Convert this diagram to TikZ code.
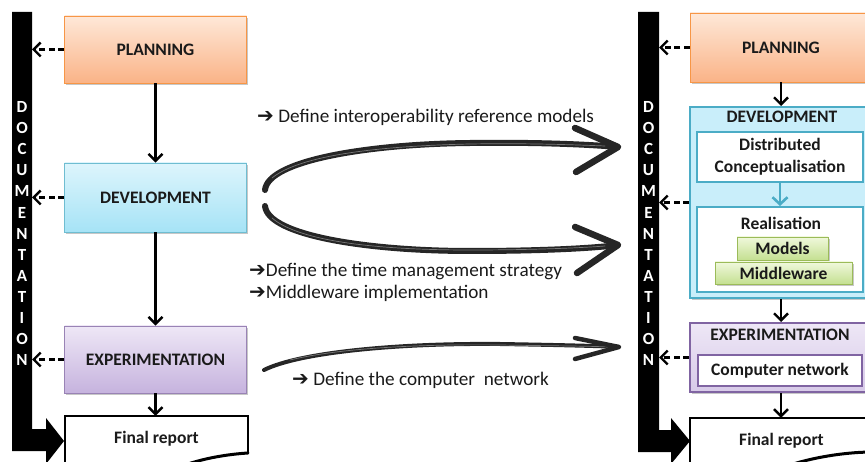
\documentclass[tikz,border=0pt]{standalone}
\usepackage{fontspec}
\setmainfont{Carlito}
\newfontfamily\symfont{DejaVu Sans}
\usetikzlibrary{arrows.meta,shadows}

\definecolor{orangeLine}{HTML}{F79646}
\definecolor{orangeTop}{HTML}{FEE8D8}
\definecolor{orangeBot}{HTML}{FAB387}
\definecolor{blueLine}{HTML}{4BACC6}
\definecolor{blueTop}{HTML}{DDF5FC}
\definecolor{blueBot}{HTML}{A6E3F6}
\definecolor{blueFill}{HTML}{C9EEFA}
\definecolor{purpleLine}{HTML}{8064A2}
\definecolor{purpleTop}{HTML}{EEE7F6}
\definecolor{purpleBot}{HTML}{C6B3DE}
\definecolor{greenLine}{HTML}{9BBB59}
\definecolor{greenTop}{HTML}{F0F8DC}
\definecolor{greenBot}{HTML}{C4E091}
\definecolor{inkText}{HTML}{1A1A1A}

\newcommand{\notearrow}{{\symfont\bfseries\fontsize{20}{20}\selectfont ➔}}

\begin{document}
\begin{tikzpicture}[x=1pt,y=-1pt,
  lbl/.style={font=\fontsize{17.5}{20}\selectfont\bfseries, text=inkText, inner sep=0pt},
  box/.style={lbl, rectangle, draw,
    drop shadow={shadow xshift=1.5pt, shadow yshift=-1.8pt, opacity=0.22, fill=black}},
  planbox/.style={box, draw=orangeLine, line width=0.9pt, top color=orangeTop, bottom color=orangeBot},
  devbox/.style={box, draw=blueLine!80, line width=0.9pt, top color=blueTop, bottom color=blueBot},
  expbox/.style={box, draw=purpleLine!80, line width=0.9pt, top color=purpleTop, bottom color=purpleBot},
  devouter/.style={box, draw=blueLine, line width=2pt, fill=blueFill},
  expouter/.style={box, draw=purpleLine, line width=2pt, top color=purpleTop, bottom color=purpleBot!70},
  whitebox/.style={lbl, rectangle, draw=blueLine, line width=2pt, fill=white},
  netbox/.style={lbl, rectangle, draw=purpleLine, line width=2.5pt, fill=white},
  greenbox/.style={box, draw=greenLine, line width=0.9pt, top color=greenTop, bottom color=greenBot},
  plain/.style={lbl},
  docletter/.style={font=\fontsize{17}{17}\selectfont\bfseries, text=white, inner sep=0pt},
  note/.style={font=\fontsize{19.2}{22}\selectfont, text=inkText, inner sep=0pt, anchor=west},
  flow/.style={draw=black, line width=2.4pt, -{Straight Barb[length=7pt, width=14pt]}},
  flowteal/.style={draw=blueLine, line width=2.6pt, -{Straight Barb[length=7pt, width=15pt]}},
  dasharrow/.style={draw=black, line width=2.4pt, dash pattern=on 6pt off 3.5pt,
    -{Straight Barb[length=7pt, width=14pt]}},
  sketch/.style={draw=black!85, line cap=round, line join=round},
  grain/.style={draw=black!45, line width=0.7pt, opacity=0.8, line cap=round},
  docline/.style={draw=black, line width=2.6pt, line join=miter}
]
\useasboundingbox (0,0) rectangle (865,462);
\clip (0,0) rectangle (865,462);

% ---------- documentation bars with their bent arrows ----------
\fill[black] (12,12) -- (32,12) -- (32,429) -- (46,429) -- (46,418) -- (64,441)
  -- (46,464) -- (46,451) -- (12,451) -- cycle;
\fill[black] (638,12) -- (659,12) -- (659,430) -- (671,430) -- (671,418) -- (690,441)
  -- (671,464) -- (671,452) -- (638,452) -- cycle;
\coordinate (barL) at (32,0);
\coordinate (barR) at (659,0);
\foreach \l [count=\i] in {D,O,C,U,M,E,N,T,A,T,I,O,N} {
  \node[docletter] (docL\i) at (22,{107+(\i-1)*21.1}) {\l};
  \node[docletter] (docR\i) at (648.5,{107+(\i-1)*21.1}) {\l};
}

% ---------- left column ----------
\node[planbox, minimum width=182pt, minimum height=67pt] (planL) at (155.5,49.5) {PLANNING};
\node[devbox, minimum width=182pt, minimum height=69pt] (devL) at (155.5,197.5) {DEVELOPMENT};
\node[expbox, minimum width=182pt, minimum height=67pt] (expL) at (155.5,359.5) {EXPERIMENTATION};
\node[plain, minimum width=183pt, minimum height=46pt] (repL) at (156.5,439) {Final report};
\draw[docline] (65,470) -- (65,416) -- (248,416) -- (248,453);
\draw[draw=black, line width=3pt, line cap=round] (248,453) .. controls (232,454) and (208,457) .. (185,465);

\draw[flow] (planL.south) -- (devL.north);
\draw[flow] (devL.south) -- (expL.north);
\draw[flow] (expL.south) -- (expL.south |- repL.north);
\draw[dasharrow] (planL.west) -- (planL.west -| barL);
\draw[dasharrow] (devL.west) -- (devL.west -| barL);
\draw[dasharrow] (expL.west) -- (expL.west -| barL);

% ---------- right column ----------
\node[planbox, minimum width=182pt, minimum height=69pt] (planR) at (781,47.5) {PLANNING};
\node[devouter, minimum width=182pt, minimum height=191pt] (devR) at (781,202.5) {};
\node[plain] (devRt) at (782,117) {DEVELOPMENT};
\node[whitebox, minimum width=166pt, minimum height=50pt, align=center] (concR) at (780,157)
  {Distributed\\[2pt]Conceptualisation};
\node[whitebox, minimum width=166pt, minimum height=85pt] (realR) at (780,249.5) {};
\node[plain] (realRt) at (781,223) {Realisation};
\node[greenbox, minimum width=91pt, minimum height=23pt] (modR) at (782.5,248.5) {Models};
\node[greenbox, minimum width=137pt, minimum height=22pt] (midR) at (783.5,273) {Middleware};
\node[expouter, minimum width=182pt, minimum height=69pt] (expR) at (781,357.5) {};
\node[plain] (expRt) at (780,335) {EXPERIMENTATION};
\node[netbox, minimum width=164pt, minimum height=31pt] (netR) at (780,370.5) {Computer network};
\node[plain, minimum width=183pt, minimum height=46pt] (repR) at (781.5,441) {Final report};
\draw[docline] (690,470) -- (690,418) -- (873,418) -- (873,452);
\draw[draw=black, line width=3pt, line cap=round] (873,452) .. controls (850,452) and (818,456) .. (790,465);

\draw[flow] (planR.south) -- (devR.north);
\draw[flowteal] (concR.south) -- (realR.north);
\draw[flow] (devR.south) -- (expR.north);
\draw[flow] (expR.south) -- (expR.south |- repR.north);
\draw[dasharrow] (planR.west) -- (planR.west -| barR);
\draw[dasharrow] (devR.west) -- (devR.west -| barR);
\draw[dasharrow] (expR.west) -- (expR.west -| barR);

% ---------- brush arrows between the two columns ----------
\coordinate (s1) at (265,190);
\coordinate (t1) at (618,147);
\coordinate (s2) at (265,206);
\coordinate (t2) at (618,245);
\coordinate (s3) at (264,370);
\coordinate (t3) at (619,347);

\draw[sketch, line width=6pt] (s1) .. controls (268,160) and (370,144) .. (470,143)
  .. controls (545,142) and (595,145) .. (t1);
\draw[grain] (272,178) .. controls (300,155) and (380,146) .. (470,144) .. controls (530,143) and (580,145) .. (605,146);
\draw[sketch, line width=6.5pt] (575,128) -- (t1) -- (576,172);

\draw[sketch, line width=6pt] (s2) .. controls (268,236) and (370,251) .. (470,251)
  .. controls (545,251) and (595,248) .. (t2);
\draw[grain] (272,218) .. controls (300,242) and (380,250) .. (470,250) .. controls (530,250) and (580,248) .. (605,246);
\draw[sketch, line width=6.5pt] (575,227) -- (t2) -- (577,273);

\draw[sketch, line width=4pt] (s3) .. controls (300,352) and (400,343) .. (500,344)
  .. controls (560,345) and (600,346) .. (t3);
\draw[grain] (290,360) .. controls (340,348) and (420,344) .. (500,345) .. controls (560,346) and (590,346) .. (608,347);
\draw[sketch, line width=4.5pt] (575,338) -- (t3) -- (575,359);

% ---------- notes ----------
\node[note] (n1) at (257,117) {\notearrow{} Define interoperability reference models};
\node[note] (n2) at (249,271) {\notearrow Define the time management strategy};
\node[note] (n3) at (249,293) {\notearrow Middleware implementation};
\node[note] (n4) at (292,380) {\notearrow{} Define the computer\ \ network};
\end{tikzpicture}
\end{document}
